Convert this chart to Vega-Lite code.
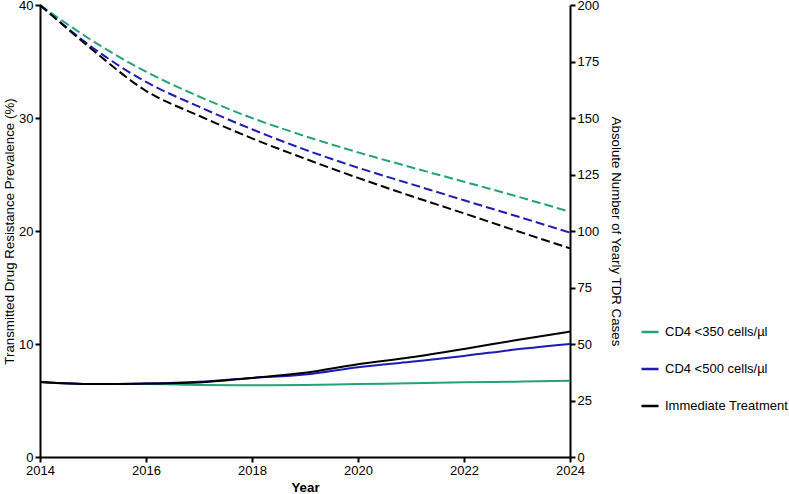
{
  "$schema": "https://vega.github.io/schema/vega-lite/v6.json",
  "width": 530,
  "height": 452,
  "autosize": {"type": "none"},
  "padding": {"left": 40, "top": 5, "right": 219, "bottom": 37},
  "config": {
    "font": "Liberation Sans",
    "view": {"stroke": null},
    "axis": {
      "domainColor": "#000000",
      "domainWidth": 2,
      "tickColor": "#000000",
      "tickWidth": 2,
      "tickSize": 5,
      "grid": false,
      "labelFontSize": 13,
      "labelColor": "#000000",
      "titleFontSize": 13.3,
      "titleColor": "#000000",
      "titleFontWeight": "normal",
      "labelPadding": 2,
      "labelFlush": false
    }
  },
  "data": {
    "values": [
      {"year": 2014, "scenario": "CD4 <350 cells/µl", "prevalence": 6.64, "cases": 200},
      {"year": 2015, "scenario": "CD4 <350 cells/µl", "prevalence": 6.45, "cases": 184},
      {"year": 2016, "scenario": "CD4 <350 cells/µl", "prevalence": 6.45, "cases": 170.5},
      {"year": 2017, "scenario": "CD4 <350 cells/µl", "prevalence": 6.37, "cases": 159.5},
      {"year": 2018, "scenario": "CD4 <350 cells/µl", "prevalence": 6.34, "cases": 150},
      {"year": 2019, "scenario": "CD4 <350 cells/µl", "prevalence": 6.37, "cases": 142},
      {"year": 2020, "scenario": "CD4 <350 cells/µl", "prevalence": 6.46, "cases": 134.8},
      {"year": 2021, "scenario": "CD4 <350 cells/µl", "prevalence": 6.52, "cases": 128.2},
      {"year": 2022, "scenario": "CD4 <350 cells/µl", "prevalence": 6.61, "cases": 121.8},
      {"year": 2023, "scenario": "CD4 <350 cells/µl", "prevalence": 6.67, "cases": 115.3},
      {"year": 2024, "scenario": "CD4 <350 cells/µl", "prevalence": 6.75, "cases": 108.5},
      {"year": 2014, "scenario": "CD4 <500 cells/µl", "prevalence": 6.64, "cases": 200},
      {"year": 2015, "scenario": "CD4 <500 cells/µl", "prevalence": 6.45, "cases": 181},
      {"year": 2016, "scenario": "CD4 <500 cells/µl", "prevalence": 6.5, "cases": 166},
      {"year": 2017, "scenario": "CD4 <500 cells/µl", "prevalence": 6.66, "cases": 155},
      {"year": 2018, "scenario": "CD4 <500 cells/µl", "prevalence": 7.0, "cases": 145},
      {"year": 2019, "scenario": "CD4 <500 cells/µl", "prevalence": 7.3, "cases": 136},
      {"year": 2020, "scenario": "CD4 <500 cells/µl", "prevalence": 7.94, "cases": 128},
      {"year": 2021, "scenario": "CD4 <500 cells/µl", "prevalence": 8.43, "cases": 120.8},
      {"year": 2022, "scenario": "CD4 <500 cells/µl", "prevalence": 8.94, "cases": 113.6},
      {"year": 2023, "scenario": "CD4 <500 cells/µl", "prevalence": 9.53, "cases": 106.5},
      {"year": 2024, "scenario": "CD4 <500 cells/µl", "prevalence": 10.0, "cases": 99.3},
      {"year": 2014, "scenario": "Immediate Treatment", "prevalence": 6.64, "cases": 200},
      {"year": 2015, "scenario": "Immediate Treatment", "prevalence": 6.45, "cases": 180},
      {"year": 2016, "scenario": "Immediate Treatment", "prevalence": 6.5, "cases": 162},
      {"year": 2017, "scenario": "Immediate Treatment", "prevalence": 6.6, "cases": 151},
      {"year": 2018, "scenario": "Immediate Treatment", "prevalence": 7.0, "cases": 141},
      {"year": 2019, "scenario": "Immediate Treatment", "prevalence": 7.45, "cases": 132},
      {"year": 2020, "scenario": "Immediate Treatment", "prevalence": 8.2, "cases": 123.5},
      {"year": 2021, "scenario": "Immediate Treatment", "prevalence": 8.82, "cases": 115.5},
      {"year": 2022, "scenario": "Immediate Treatment", "prevalence": 9.56, "cases": 107.8},
      {"year": 2023, "scenario": "Immediate Treatment", "prevalence": 10.35, "cases": 100},
      {"year": 2024, "scenario": "Immediate Treatment", "prevalence": 11.1, "cases": 92.3}
    ]
  },
  "encoding": {
    "x": {
      "field": "year",
      "type": "quantitative",
      "scale": {"domain": [2014, 2024], "nice": false, "zero": false},
      "axis": {
        "values": [2014, 2016, 2018, 2020, 2022, 2024],
        "format": "d",
        "title": "Year",
        "titleFontWeight": "bold",
        "titlePadding": 3
      }
    },
    "color": {
      "field": "scenario",
      "type": "nominal",
      "scale": {
        "domain": ["CD4 <350 cells/µl", "CD4 <500 cells/µl", "Immediate Treatment"],
        "range": ["#24a27a", "#1c1cb4", "#000000"]
      },
      "legend": {
        "title": null,
        "orient": "none",
        "legendX": 600,
        "legendY": 317,
        "symbolType": "stroke",
        "symbolSize": 289,
        "symbolStrokeWidth": 2.5,
        "labelFontSize": 13,
        "labelColor": "#000000",
        "labelOffset": 5,
        "rowPadding": 20
      }
    }
  },
  "layer": [
    {
      "mark": {"type": "line", "interpolate": "monotone", "strokeWidth": 2},
      "encoding": {
        "y": {
          "field": "prevalence",
          "type": "quantitative",
          "scale": {"domain": [0, 40], "nice": false},
          "axis": {
            "orient": "left",
            "values": [0, 10, 20, 30, 40],
            "title": "Transmitted Drug Resistance Prevalence (%)",
            "titlePadding": 2
          }
        }
      }
    },
    {
      "mark": {"type": "line", "interpolate": "monotone", "strokeWidth": 2, "strokeDash": [9, 4]},
      "encoding": {
        "y": {
          "field": "cases",
          "type": "quantitative",
          "scale": {"domain": [0, 200], "nice": false},
          "axis": {
            "orient": "right",
            "values": [0, 25, 50, 75, 100, 125, 150, 175, 200],
            "title": "Absolute Number of Yearly TDR Cases",
            "titleAngle": 90,
            "titlePadding": 10
          }
        }
      }
    }
  ],
  "resolve": {"scale": {"y": "independent"}}
}
